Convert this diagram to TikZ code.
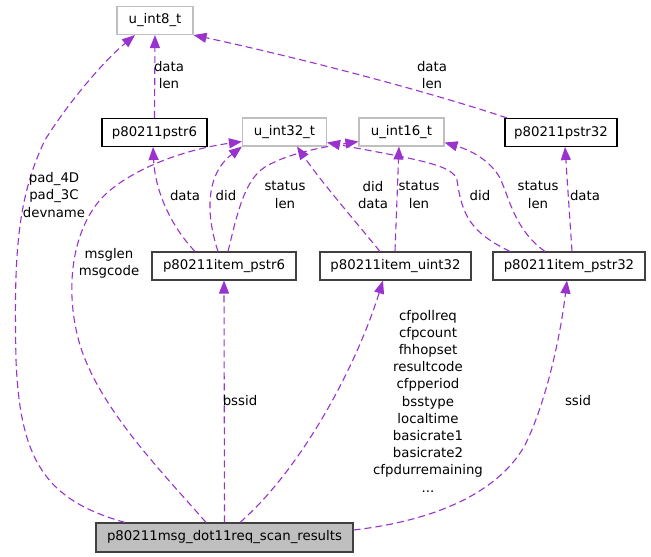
\documentclass[tikz,border=0pt]{standalone}
\usepackage{fontspec}
\setmainfont{DejaVu Sans}
\usetikzlibrary{arrows.meta}
\definecolor{edgec}{HTML}{9A32CD}
\definecolor{extc}{HTML}{BFBFBF}
\definecolor{itemc}{HTML}{404040}
\definecolor{rootfill}{HTML}{BFBFBF}
\tikzset{
  base/.style={inner sep=0pt, minimum height=28pt, font=\fontsize{13.3}{17.2}\selectfont, line width=1.1pt},
  ext/.style={base, draw=extc, fill=white},
  cls/.style={base, draw=black, fill=white},
  item/.style={base, draw=itemc, fill=white},
  rootbox/.style={base, draw=itemc, fill=rootfill, minimum height=29pt},
  lbl/.style={inner sep=0pt, align=center, font=\fontsize{13.3}{17.2}\selectfont},
  edge/.style={draw=edgec, dash pattern=on 7pt off 4pt, line width=1.1pt, -{Triangle[length=13pt,width=10pt]}}
}
\begin{document}
\begin{tikzpicture}[x=1pt,y=-1pt]
\useasboundingbox (0,0) rectangle (651,557);
% nodes
\node[ext, minimum width=76pt] (u8) at (155,20.5) {u\_int8\_t};
\node[cls, minimum width=105pt] (pstr6) at (154.5,132.5) {p80211pstr6};
\node[ext, minimum width=84pt] (u32) at (284.5,132) {u\_int32\_t};
\node[ext, minimum width=85pt] (u16) at (401.5,132) {u\_int16\_t};
\node[cls, minimum width=112pt] (pstr32) at (561,132.5) {p80211pstr32};
\node[item, minimum width=144pt] (ip6) at (224,266) {p80211item\_pstr6};
\node[item, minimum width=151pt] (iu32) at (395.5,266) {p80211item\_uint32};
\node[item, minimum width=152pt] (ip32) at (569,266) {p80211item\_pstr32};
\node[rootbox, minimum width=257pt] (root) at (224.5,537.5) {p80211msg\_dot11req\_scan\_results};
% edges
\draw[edge] (pstr6.north) -- (u8.south);
\draw[edge] (507,0 |- pstr32.north) .. controls (430,92) and (300,58) .. (u8.south east);
\draw[edge] (125,0 |- root.north) .. controls (45,500) and (20,460) .. (16,360)
  .. controls (14,260) and (16,200) .. (45,140)
  .. controls (70,100) and (105,60) .. (135,0 |- u8.south);
\draw[edge] (195,0 |- ip6.north) .. controls (170,225) and (155,190) .. (153,0 |- pstr6.south);
\draw[edge] (218,0 |- ip6.north) .. controls (206,215) and (205,175) .. (u32.south west);
\draw[edge] (228,0 |- ip6.north) .. controls (238,210) and (245,180) .. (265,167)
  .. controls (290,152) and (330,146) .. ([yshift=5pt]u16.south west);
\draw[edge] (206,0 |- root.north) .. controls (165,475) and (100,410) .. (80,345)
  .. controls (65,295) and (70,235) .. (100,200)
  .. controls (125,172) and (180,150) .. ([yshift=5pt]u32.south west);
\draw[edge] (root.north) -- (ip6.south);
\draw[edge] (240,0 |- root.north) .. controls (300,470) and (355,370) .. (383,0 |- iu32.south);
\draw[edge] ([yshift=7.5pt]root.east) .. controls (440,520) and (500,490) .. (525,445)
  .. controls (545,405) and (560,340) .. (567,0 |- ip32.south);
\draw[edge] (380,0 |- iu32.north) .. controls (350,215) and (320,180) .. (297,0 |- u32.south);
\draw[edge] (395,0 |- iu32.north) -- (399,0 |- u16.south);
\draw[edge] (510,0 |- ip32.north) .. controls (470,232) and (462,215) .. (457,180)
  .. controls (453,165) and (420,160) .. ([yshift=4pt]u32.south east);
\draw[edge] (545,0 |- ip32.north) .. controls (515,230) and (510,200) .. (500,178)
  .. controls (490,160) and (470,150) .. ([yshift=4pt]u16.south east);
\draw[edge] (572,0 |- ip32.north) -- (565,0 |- pstr32.south);
% labels
\node[lbl] (l1) at (169,75) {data\\len};
\node[lbl] (l2) at (432,75) {data\\len};
\node[lbl] (l3) at (54,195) {pad\_4D\\pad\_3C\\devname};
\node[lbl] (l4) at (185,196) {data};
\node[lbl] (l5) at (226,196) {did};
\node[lbl] (l6) at (285,195) {status\\len};
\node[lbl] (l7) at (109,263) {msglen\\msgcode};
\node[lbl] (l8) at (240,401) {bssid};
\node[lbl] (l9) at (428,401) {cfpollreq\\cfpcount\\fhhopset\\resultcode\\cfpperiod\\bsstype\\localtime\\basicrate1\\basicrate2\\cfpdurremaining\\...};
\node[lbl] (l10) at (578,401) {ssid};
\node[lbl] (l11) at (373,195) {did\\data};
\node[lbl] (l12) at (419,195) {status\\len};
\node[lbl] (l13) at (480,196) {did};
\node[lbl] (l14) at (538,195) {status\\len};
\node[lbl] (l15) at (585,196) {data};
\end{tikzpicture}
\end{document}
